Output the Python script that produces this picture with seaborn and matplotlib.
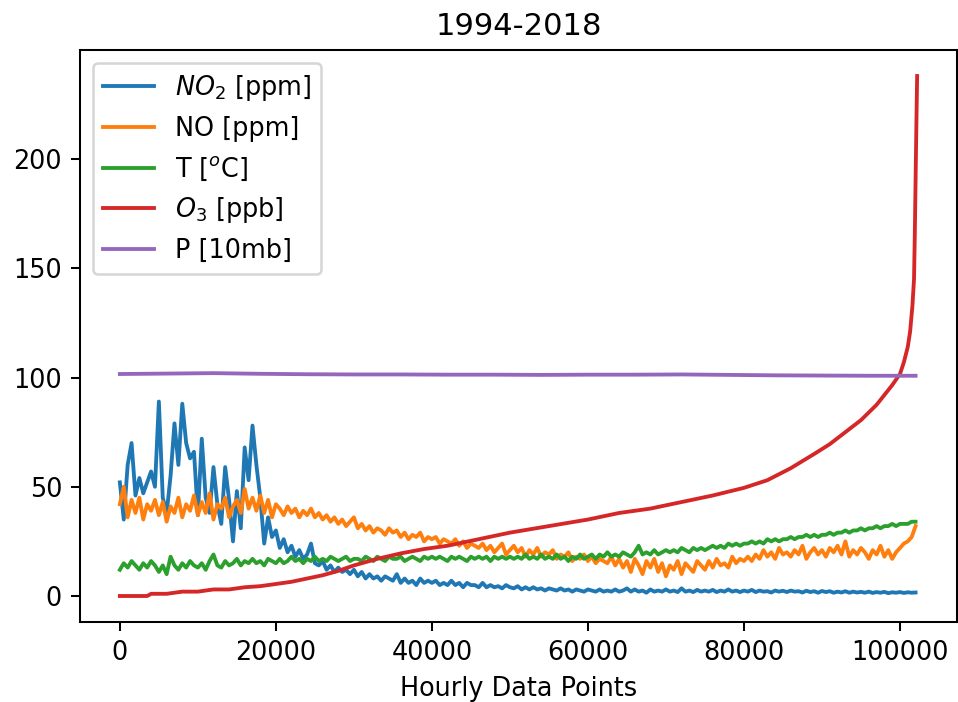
import numpy as np
import matplotlib
matplotlib.use("Agg")
import matplotlib.pyplot as plt
import seaborn as sns

# hourly index step for the noisy series (values every 500 h)
step = 500

no2 = [52, 35, 60, 70, 46, 54, 47, 52, 57, 50,
       89, 45, 38, 55, 79, 60, 88, 70, 63, 66,
       37, 72, 45, 38, 59, 42, 33, 59, 44, 25,
       48, 31, 68, 53, 78, 60, 45, 24, 36, 27,
       30, 22, 26, 20, 23, 18, 21, 17, 19, 24,
       15,
       14, 16, 12, 14, 11, 13, 11, 12, 10, 12,
       9, 11, 8, 10, 8, 9, 7, 9, 8, 7,
       10, 6, 8, 6, 7, 5, 8, 6, 7, 6,
       7, 5, 6, 5, 7, 5, 6, 4, 6, 5,
       5, 4, 6, 4, 5, 4, 4.5, 3.5, 5, 4,
       3.5, 4.5, 3, 4, 3, 4, 3, 3.5, 2.5, 3.5,
       3, 2.5, 3.5, 2.5, 3, 2, 3, 2.5, 2, 3,
       2.5, 2, 3, 2, 2.5, 2, 3, 2, 2.5, 3.5,
       2, 3, 2, 2.5, 1.5, 3, 2, 2.5, 2, 3,
       2, 2.5, 1.8, 3.5, 2, 2.5, 1.8, 2.8, 2, 2.5,
       2, 2.8, 1.8, 2.5, 2, 3, 2, 2.5, 1.8, 2.5,
       2, 2.8, 1.8, 2.5, 2, 2.2, 1.6, 2.5, 2, 2.4,
       1.8, 2.5, 2, 2.2, 1.6, 2.4, 1.8, 2.2, 1.5, 2.3,
       1.8, 2.2, 1.5, 2, 1.6, 2.2, 1.5, 2, 1.6, 1.9,
       1.5, 2, 1.4, 1.8, 1.5, 1.9, 1.3, 1.7, 1.5, 1.8,
       1.4, 1.7, 1.5, 1.6]

no = [42, 50, 36, 44, 38, 45, 35, 42, 39, 44, 37,
      43, 34, 41, 38, 45, 36, 42, 39, 46, 37,
      43, 38, 47, 35, 42, 40, 45, 36, 41, 44,
      38, 49, 40, 45, 39, 46, 38, 44, 36, 42,
      40, 37, 41, 38, 40, 36, 39, 37, 40, 36,
      38, 35, 37, 34, 36, 33, 35, 32, 34, 36,
      31, 33, 30, 32, 29, 31, 30, 28, 31, 29,
      30, 27, 29, 26, 28, 27, 29, 25, 27, 26,
      27, 24, 26, 25, 24, 26, 23, 25, 22, 24,
      23, 22, 24, 21, 23, 20, 22, 24, 19, 21,
      23, 20, 22, 18, 21, 19, 22, 18, 20, 19,
      21, 17, 19, 18, 20, 16, 18, 17, 19, 16,
      18, 15, 17, 16, 15, 18, 14, 17, 13, 16,
      11, 17, 14, 10, 16, 13, 17, 11, 15, 9,
      14, 12, 16, 10, 15, 13, 11, 16, 14, 12,
      16, 13, 17, 14, 15, 13, 18, 15, 17, 16,
      18, 16, 19, 17, 21, 18, 20, 17, 22, 19,
      20, 18, 21, 19, 23, 17, 20, 22, 19, 21,
      18, 22, 20, 23, 19, 25, 18, 21, 19, 22,
      20, 17, 21, 19, 23, 18, 21, 17, 20, 22,
      24, 25, 27, 32]

temp = [12, 15, 13, 16, 14, 12, 15, 13, 16, 14, 11,
        14, 10, 18, 14, 12, 15, 13, 16, 14, 13,
        15, 12, 16, 19, 14, 13, 16, 14, 15, 17,
        14, 16, 15, 17, 15, 16, 14, 17, 16, 15,
        17, 15, 16, 18, 16, 17, 15, 17, 16, 18,
        16, 17, 16, 18, 17, 16, 17, 18, 16, 17,
        17, 16, 18, 17, 16, 18, 17, 16, 18, 17,
        17, 18, 16, 17, 18, 17, 16, 18, 17, 18,
        17, 18, 17, 16, 18, 17, 18, 17, 16, 18,
        17, 18, 17, 18, 16, 18, 17, 18, 17, 18,
        17, 18, 17, 19, 17, 18, 17, 19, 17, 18,
        17, 19, 17, 18, 16, 18, 17, 19, 17, 18,
        19, 17, 19, 18, 20, 18, 19, 18, 20, 19,
        18, 20, 23, 19, 20, 19, 21, 19, 20, 21,
        20, 21, 20, 22, 21, 20, 22, 21, 22, 21,
        22, 23, 22, 23, 22, 24, 23, 24, 23, 24,
        24, 25, 24, 25, 24, 26, 25, 26, 25, 26,
        26, 27, 26, 27, 27, 28, 27, 28, 27, 28,
        28, 29, 28, 29, 29, 30, 29, 30, 30, 31,
        30, 31, 31, 32, 31, 32, 32, 33, 32, 33,
        33, 33, 34, 34]

# ozone (sorted-looking curve), read at uneven points
o3_x = [0, 2000, 3500, 4000, 6000, 8000, 10000, 12000, 14000, 16000,
        18000, 20000, 22000, 24000, 26000, 28000, 30000, 33000, 36000, 39000,
        42000, 46000, 50000, 55000, 60000, 64000, 68000, 72000, 76000, 80000,
        83000, 86000, 89000, 91000, 93000, 95000, 97000, 98000, 99000, 100000,
        100500, 101000, 101300, 101600, 101800, 101900, 102000, 102100, 102200]
o3 = [0, 0, 0, 1, 1, 2, 2, 3, 3, 4,
      4.5, 5.5, 6.5, 8, 9.5, 11.5, 14, 17, 19.5, 21.5,
      23, 26, 29, 32, 35, 38, 40, 43, 46, 49.5,
      53, 58.5, 65, 69.5, 75, 80.5, 87.5, 92, 96.5, 101.6,
      107, 114, 121, 133, 145, 165, 190, 215, 238]

# pressure in 10 mb, read every 6000 h
p_x = [0, 6000, 12000, 18000, 24000, 30000, 36000, 42000, 48000, 54000,
       60000, 66000, 72000, 78000, 84000, 90000, 96000, 102000]
pres = [101.6, 101.8, 102.0, 101.7, 101.5, 101.4, 101.4, 101.3, 101.3, 101.2,
        101.3, 101.3, 101.4, 101.2, 101.0, 100.9, 100.8, 100.8]

colors = sns.color_palette("tab10")

fig = plt.figure(figsize=(958 / 184, 702 / 184), dpi=184)
ax = fig.add_axes([80 / 958, 80 / 702, 877 / 958, 572 / 702])

sns.lineplot(x=np.arange(len(no2)) * step, y=no2, ax=ax, color=colors[0],
             label=r'$NO_2$ [ppm]', estimator=None)
sns.lineplot(x=np.arange(len(no)) * step, y=no, ax=ax, color=colors[1],
             label='NO [ppm]', estimator=None)
sns.lineplot(x=np.arange(len(temp)) * step, y=temp, ax=ax, color=colors[2],
             label=r'T [$^o$C]', estimator=None)
sns.lineplot(x=o3_x, y=o3, ax=ax, color=colors[3],
             label=r'$O_3$ [ppb]', estimator=None)
sns.lineplot(x=p_x, y=pres, ax=ax, color=colors[4],
             label='P [10mb]', estimator=None)

ax.set_title('1994-2018', fontsize=12)
ax.set_xlabel('Hourly Data Points')
ax.set_ylabel('')
ax.legend(loc='upper left')

fig.savefig('out.png', dpi=184)
